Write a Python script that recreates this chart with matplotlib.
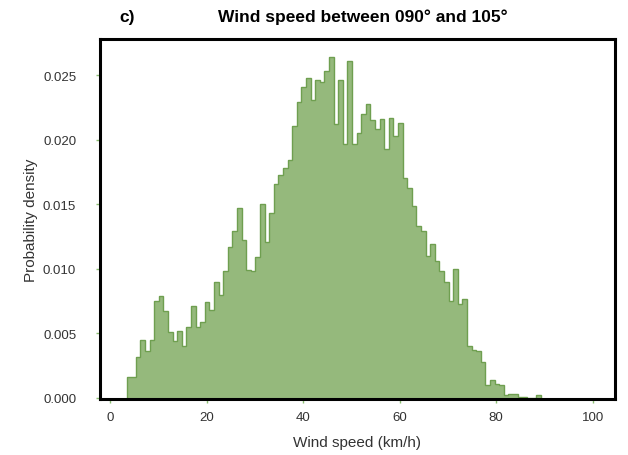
import numpy as np
import matplotlib
matplotlib.use("Agg")
import matplotlib.pyplot as plt
import matplotlib.ticker as ticker

plt.rcParams['font.family'] = ['Liberation Sans', 'DejaVu Sans']

# histogram (probability density per bin)
bin_start = 3.33
bin_width = 0.954
density = [0.0016, 0.0016, 0.0032, 0.0045, 0.0036, 0.0045, 0.0075, 0.0079,
           0.0067, 0.0051, 0.0044, 0.0052, 0.0040, 0.0055, 0.0071, 0.0055,
           0.0059, 0.0074, 0.0068, 0.0090, 0.0080, 0.0098, 0.0117, 0.0129,
           0.0147, 0.0122, 0.0099, 0.0098, 0.0109, 0.0150, 0.0121, 0.0143,
           0.0166, 0.0173, 0.0178, 0.0184, 0.0211, 0.0229, 0.0241, 0.0248,
           0.0231, 0.0246, 0.0245, 0.0253, 0.0264, 0.0212, 0.0246, 0.0197,
           0.0261, 0.0197, 0.0205, 0.0220, 0.0228, 0.0215, 0.0208, 0.0216,
           0.0193, 0.0217, 0.0203, 0.0213, 0.0170, 0.0163, 0.0149, 0.0133,
           0.0129, 0.0110, 0.0119, 0.0106, 0.0098, 0.0090, 0.0075, 0.0100,
           0.0073, 0.0077, 0.0040, 0.0037, 0.0036, 0.0028, 0.0010, 0.0014,
           0.0011, 0.0010, 0.0002, 0.0003, 0.0003, 0.0001, 0.0001, 0.0,
           0.0, 0.0002]
edges = bin_start + bin_width * np.arange(len(density) + 1)

x_ticks = [0, 20, 40, 60, 80, 100]
y_ticks = [0.000, 0.005, 0.010, 0.015, 0.020, 0.025]

fill_col = '#95b97c'
edge_col = '#6f9f50'
tick_col = '#8cbf73'

#%% plot
fig = plt.figure(figsize=(6.28, 4.56), dpi=100)
ax = fig.add_axes([0.159, 0.123, 0.820, 0.789])

ax.stairs(density, edges, fill=True, color=fill_col, lw=0)
ax.stairs(density, edges, color=edge_col, lw=1.0)

ax.set_xlim(-2.2, 104.6)
ax.set_ylim(-0.00008, 0.0278)
ax.xaxis.set_major_locator(ticker.FixedLocator(x_ticks))
ax.yaxis.set_major_locator(ticker.FixedLocator(y_ticks))
ax.yaxis.set_major_formatter(ticker.FormatStrFormatter('%.3f'))

for s in ax.spines.values():
    s.set_linewidth(2.2)
    s.set_color('black')

ax.tick_params(axis='both', length=3, width=1, color=tick_col,
               labelsize=9.5, labelcolor='#333333')
ax.tick_params(axis='y', pad=14)
ax.tick_params(axis='x', pad=6)

ax.set_xlabel('Wind speed (km/h)', fontsize=11, color='#333333')
ax.set_ylabel('Probability density', fontsize=11, color='#333333')
ax.xaxis.set_label_coords(0.5, -0.10)
ax.yaxis.set_label_coords(-0.12, 0.5)

fig.text(0.19, 0.962, 'c)', fontsize=12.5, fontweight='bold', ha='left', va='center')
fig.text(0.577, 0.962, 'Wind speed between 090\u00b0 and 105\u00b0', fontsize=12.5,
         fontweight='bold', ha='center', va='center')

#%% save
fig.savefig('out.png', dpi=100)
